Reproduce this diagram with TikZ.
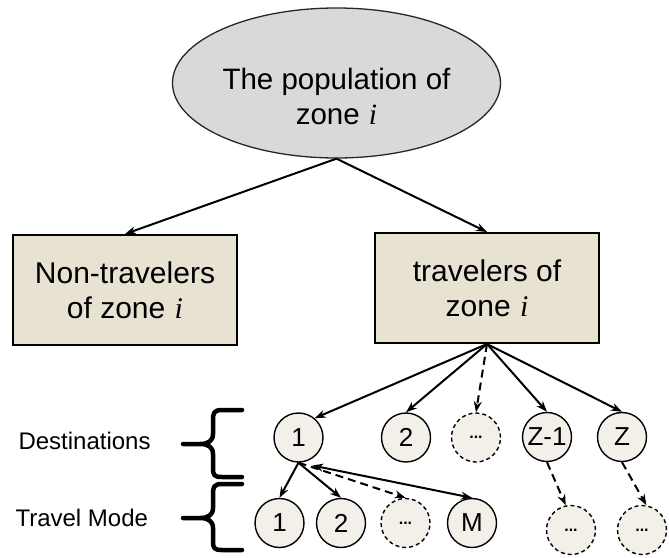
\documentclass[tikz,border=0pt]{standalone}
\usepackage{fontspec}
\setmainfont{Liberation Sans}
\newfontfamily\zonefont{Liberation Serif}
\usetikzlibrary{arrows.meta,shapes.geometric}

\definecolor{popfill}{HTML}{D9D9D9}
\definecolor{boxfill}{HTML}{E8E2D3}
\definecolor{dotfill}{HTML}{F2F0E8}

% italic zone index
\newcommand{\zidx}{{\zonefont\itshape\kern1pt i}}

\tikzset{
  popshape/.style={ellipse, draw=black!85, line width=1.3pt, fill=popfill,
    minimum width=328pt, minimum height=150pt, inner sep=0pt},
  groupbox/.style={rectangle, draw=black, line width=2pt, fill=boxfill,
    minimum width=224pt, minimum height=110pt, align=center,
    font=\fontsize{30}{35}\selectfont},
  choice/.style={circle, draw=black, line width=1.4pt, fill=dotfill,
    minimum size=49pt, inner sep=0pt, font=\fontsize{26}{30}\selectfont},
  openchoice/.style={choice, dash pattern=on 4pt off 3pt,
    font=\fontsize{16}{18}\selectfont\bfseries},
  levellabel/.style={anchor=west, font=\fontsize{24}{28}\selectfont},
  link/.style={line width=2pt, -{Stealth[length=11pt,width=8pt]}},
  openlink/.style={link, dash pattern=on 8pt off 5pt},
  bracket/.style={line width=4.5pt, line cap=round, line join=round},
}

\begin{document}
\begin{tikzpicture}[x=1pt,y=-1pt]
\useasboundingbox (0,0) rectangle (669,557);

% top level: the whole population
\node[popshape] (pop) at (336.5,83) {};
\node[align=center, font=\fontsize{29.5}{35}\selectfont] (poptext) at (336.5,96)
  {The population of\\zone \zidx};

% split into non-travelers and travelers
\node[groupbox] (non) at (125,290) {Non-travelers\\of zone \zidx};
\node[groupbox] (trav) at (487,288) {travelers of\\zone \zidx};

\draw[link] (pop.south) -- (non.north);
\draw[link] (pop.south) -- (trav.north);

% destinations
\node[choice] (d1) at (298.5,437.5) {1};
\node[choice] (d2) at (406,437.5) {2};
\node[openchoice] (dd) at (476,437.5) {\raisebox{-2pt}{...}};
\node[choice] (dz1) at (547,437) {Z-1};
\node[choice] (dz) at (622,437) {Z};

\draw[link] (trav.south) -- (d1.50);
\draw[link] (trav.south) -- (d2.north);
\draw[openlink] (trav.south) -- (dd.north);
\draw[link] (trav.south) -- (dz1.north);
\draw[link] (trav.south) -- (dz.north);

% travel modes for destination 1
\node[choice] (m1) at (279.5,523) {1};
\node[choice] (m2) at (341,523) {2};
\node[openchoice] (md) at (405.5,523) {\raisebox{-2pt}{...}};
\node[choice] (mM) at (472,523) {M};

\draw[link] (d1.south) -- (m1.north);
\draw[link] (d1.south) -- (m2.north);
\draw[openlink] (d1.south) -- (md.north);
\draw[line width=2pt, {Stealth[length=11pt,width=8pt]}-{Stealth[length=11pt,width=8pt]},
  shorten <=14pt] (d1.south) -- (mM.north);

% travel modes for the last destinations
\node[openchoice] (zm1) at (571,530) {\raisebox{-2pt}{...}};
\node[openchoice] (zm) at (642,530) {\raisebox{-2pt}{...}};

\draw[openlink] (dz1.south) -- (zm1.102);
\draw[openlink] (dz.south) -- (zm.80);

% level labels with braces
\node[levellabel] (destlab) at (15,441) {Destinations};
\node[levellabel] (modelab) at (12,518) {Travel Mode};

\draw[bracket] (242,410) -- (222,410) .. controls (214,410) and (213,413) .. (213,420)
  -- (213,434) .. controls (213,441) and (208,444) .. (200,444) -- (183,444)
  (200,444) .. controls (208,444) and (213,447) .. (213,454)
  -- (213,468) .. controls (213,475) and (214,477) .. (222,477) -- (242,477);
\draw[bracket] (242,484) -- (222,484) .. controls (214,484) and (213,487) .. (213,494)
  -- (213,508) .. controls (213,515) and (208,518) .. (200,518) -- (183,518)
  (200,518) .. controls (208,518) and (213,521) .. (213,528)
  -- (213,541) .. controls (213,548) and (214,550) .. (222,550) -- (242,550);
\end{tikzpicture}
\end{document}
